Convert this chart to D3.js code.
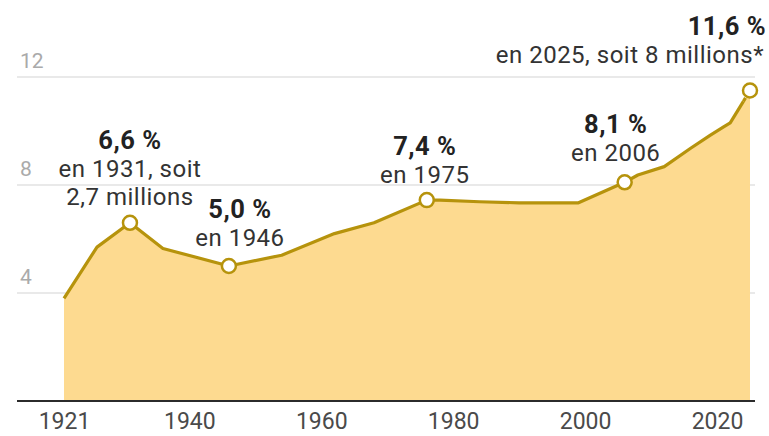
<!DOCTYPE html>
<html>
<head>
<meta charset="utf-8">
<script src="https://cdn.jsdelivr.net/npm/d3@7"></script>
<style>
  body { margin: 0; background: #fff; }
  svg { display: block; font-family: Roboto, "Noto Sans", sans-serif; }
</style>
</head>
<body>
<svg id="chart"></svg>
<script>
// data
var years = [1921, 1926, 1931, 1936, 1946, 1954, 1962, 1968, 1976, 1978, 1984, 1990, 1999, 2006, 2008, 2012, 2016, 2019, 2021, 2022, 2023, 2024, 2025];
var values = [3.8, 5.7, 6.6, 5.65, 5.0, 5.4, 6.2, 6.6, 7.44, 7.44, 7.38, 7.34, 7.34, 8.1, 8.37, 8.68, 9.36, 9.85, 10.15, 10.3, 10.7, 11.1, 11.5];
var yTicks = [4, 8, 12];
var xTicks = [1921, 1940, 1960, 1980, 2000, 2020];

var noteYears = [1931, 1946, 1976, 2006, 2025];
var noteBold = ["6,6 %", "5,0 %", "7,4 %", "8,1 %", "11,6 %"];
var noteText = [["en 1931, soit", "2,7 millions"], ["en 1946"], ["en 1975"], ["en 2006"], ["en 2025, soit 8 millions*"]];

// set up vars
var width = 769,
    height = 436,
    lineColor = "#b6930c",
    areaColor = "#fdda90";

var x = d3.scaleLinear().domain([1921, 2025]).range([64, 750]),
    y = d3.scaleLinear().domain([0, 12]).range([401, 77]);

var svg = d3.select("#chart").attr("width", width).attr("height", height);

var data = years.map(function(d, i) { return {year: d, value: values[i]}; });

// grid
var grid = svg.append("g");
grid.selectAll("line")
    .data(yTicks)
  .enter().append("line")
    .attr("x1", 17)
    .attr("x2", 755)
    .attr("y1", function(d) { return y(d); })
    .attr("y2", function(d) { return y(d); })
    .attr("stroke", "#e2e2e2")
    .attr("stroke-width", 1.5);

grid.selectAll("text")
    .data(yTicks)
  .enter().append("text")
    .attr("x", 20)
    .attr("y", function(d) { return y(d) - 9; })
    .attr("fill", "#aaaaaa")
    .style("font-size", "21px")
    .text(function(d) { return d; });

// area + line
var area = d3.area()
    .x(function(d) { return x(d.year); })
    .y0(y(0))
    .y1(function(d) { return y(d.value); });

var line = d3.line()
    .x(function(d) { return x(d.year); })
    .y(function(d) { return y(d.value); });

svg.append("path")
    .datum(data)
    .attr("d", area)
    .attr("fill", areaColor);

// solid up to 2024, dashed for the last bit
svg.append("path")
    .datum(data.slice(0, data.length - 1))
    .attr("d", line)
    .attr("fill", "none")
    .attr("stroke", lineColor)
    .attr("stroke-width", 3.2)
    .attr("stroke-linejoin", "round");

svg.append("path")
    .datum(data.slice(data.length - 2))
    .attr("d", line)
    .attr("fill", "none")
    .attr("stroke", lineColor)
    .attr("stroke-width", 3.2)
    .attr("stroke-dasharray", "4,3");

// x axis
var xAxis = d3.axisBottom(x)
    .tickValues(xTicks)
    .tickFormat(d3.format("d"))
    .tickSize(0)
    .tickPadding(12);

var gx = svg.append("g")
    .attr("transform", "translate(0," + y(0) + ")")
    .call(xAxis);
gx.select(".domain").remove();
gx.selectAll("text")
    .attr("fill", "#4a4a4a")
    .style("font-size", "23px")
    .style("font-family", "Roboto, sans-serif");

svg.append("line")
    .attr("x1", 17)
    .attr("x2", 755)
    .attr("y1", y(0))
    .attr("y2", y(0))
    .attr("stroke", "#2b2b2b")
    .attr("stroke-width", 2);

// markers + notes
var notePos = [
  {dx: 0, dy: -74, anchor: "middle"},
  {dx: 11, dy: -48, anchor: "middle"},
  {dx: -2, dy: -45, anchor: "middle"},
  {dx: -9, dy: -49, anchor: "middle"},
  {dx: 14, dy: -56, anchor: "end"}
];

noteYears.forEach(function(yr, i) {
  var d = data.find(function(p) { return p.year === yr; });
  var cx = x(d.year), cy = y(d.value), p = notePos[i];

  svg.append("circle")
      .attr("cx", cx)
      .attr("cy", cy)
      .attr("r", 7)
      .attr("fill", "#fff")
      .attr("stroke", lineColor)
      .attr("stroke-width", 2.5);

  var t = svg.append("text")
      .attr("text-anchor", p.anchor)
      .attr("fill", "#333")
      .style("font-size", "24px")
      .style("letter-spacing", "0.5px");

  t.append("tspan")
      .attr("x", cx + p.dx + (p.anchor === "end" ? 2 : 0))
      .attr("y", cy + p.dy)
      .style("font-weight", "bold")
      .style("font-size", "25.5px")
      .attr("fill", "#222")
      .text(noteBold[i]);

  noteText[i].forEach(function(s, j) {
    t.append("tspan")
        .attr("x", cx + p.dx)
        .attr("y", cy + p.dy + 28 * (j + 1))
        .text(s);
  });
});
</script>
</body>
</html>
